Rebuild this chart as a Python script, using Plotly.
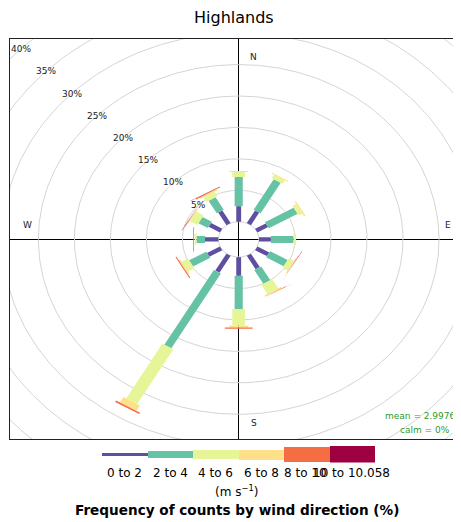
import numpy as np
import plotly.graph_objects as go

# ---------------- data ----------------
directions = [0, 30, 60, 90, 120, 150, 180, 210, 240, 270, 300, 330]
bin_labels = ["0 to 2", "2 to 4", "4 to 6", "6 to 8", "8 to 10", "10 to 10.058"]
bin_colors = ["#5E4FA2", "#66C2A5", "#E6F598", "#FEE08B", "#F46D43", "#9E0142"]
# frequency (%) of each speed bin for each direction (N, 30, 60 ... 330)
f_0_2   = [2.45, 2.30, 1.70, 1.65, 1.90, 2.46, 2.97, 3.10, 2.07, 1.86, 1.80, 2.30]
f_2_4   = [4.68, 5.60, 4.61, 3.15, 2.81, 2.54, 5.29, 13.76, 2.74, 1.18, 1.51, 2.29]
f_4_6   = [0.77, 0.65, 0.59, 0.35, 0.79, 1.66, 2.63, 10.04, 1.01, 0.26, 1.18, 0.85]
f_6_8   = [0.15, 0.15, 0.20, 0.07, 0.15, 0.24, 0.31, 1.00, 0.23, 0.08, 0.13, 0.21]
f_8_10  = [0.00, 0.08, 0.08, 0.00, 0.07, 0.10, 0.19, 0.25, 0.15, 0.11, 0.10, 0.15]
f_10_up = [0.00, 0.04, 0.04, 0.00, 0.04, 0.04, 0.00, 0.05, 0.04, 0.00, 0.04, 0.04]
series = [f_0_2, f_2_4, f_4_6, f_6_8, f_8_10, f_10_up]
ring_pcts = [5, 10, 15, 20, 25, 30, 35, 40]
compass = ["N", "E", "S", "W"]
mean_ws = "2.9976"
calm_pct = "0%"
key_heights = [3.7, 6.3, 9.7, 10.0, 14.3, 16.3]
title = "Highlands"

# ---------------- geometry ----------------
# page is 461x522; the browser body has an 8px margin, so the figure is 453x514
PAGE_H = 522
FW, FH = 453, 514
totals = np.sum(np.array(series), axis=0)
max_freq = float(totals.max())
off = 0.1 * max_freq
angle = 30
bw = np.linspace(0.002 ** 0.25, 0.016 ** 0.25, len(series)) ** 4 * max_freq * angle / 5

def px2fx(px):  # page px -> paper fraction (plot area = page x 10..461)
    return (px - 10) / 451

def py2fy(py):  # page px -> paper fraction
    return (PAGE_H - py) / FH

KEY_X0, KEY_X1 = 101.7, 375.0
seg_px = (KEY_X1 - KEY_X0) / len(bin_labels)

def kx(px):  # page px -> key axis units
    return (px - KEY_X0) / seg_px - 0.5

fig = go.Figure()

# grid rings (0% .. 40%)
th = np.linspace(0, 2 * np.pi, 361)
rx, ry = [], []
for p in [0] + ring_pcts:
    r = p + off
    rx += list(r * np.sin(th)) + [None]
    ry += list(r * np.cos(th)) + [None]
fig.add_trace(go.Scatter(x=rx, y=ry, mode="lines", line=dict(color="#D4D4D4", width=1),
                         hoverinfo="skip", showlegend=False))

# paddles
cum = np.zeros(len(directions))
for j, vals in enumerate(series):
    xs, ys = [], []
    w = bw[j]
    for i, wd in enumerate(directions):
        t = np.radians(wd)
        l1 = cum[i] + off
        l2 = cum[i] + vals[i] + off
        if vals[i] <= 0:
            continue
        x1 = l1 * np.sin(t) - w * np.cos(t); y1 = l1 * np.cos(t) + w * np.sin(t)
        x2 = l1 * np.sin(t) + w * np.cos(t); y2 = l1 * np.cos(t) - w * np.sin(t)
        x3 = l2 * np.sin(t) - w * np.cos(t); y3 = l2 * np.cos(t) + w * np.sin(t)
        x4 = l2 * np.sin(t) + w * np.cos(t); y4 = l2 * np.cos(t) - w * np.sin(t)
        xs += [x1, x2, x4, x3, x1, None]
        ys += [y1, y2, y4, y3, y1, None]
    cum = cum + np.array(vals)
    fig.add_trace(go.Scatter(x=xs, y=ys, mode="lines", fill="toself", fillcolor=bin_colors[j],
                             line=dict(width=0, color=bin_colors[j]), hoverinfo="skip",
                             showlegend=False))

# key (legend) bars on a second set of axes
fig.add_trace(go.Bar(x=list(range(len(bin_labels))), y=key_heights,
                     base=[-h / 2 for h in key_heights], width=1,
                     marker=dict(color=bin_colors, line=dict(width=0)),
                     xaxis="x2", yaxis="y2", hoverinfo="skip", showlegend=False))

R = max_freq + off
fig.update_layout(
    width=FW, height=FH,
    margin=dict(l=2, r=0, t=0, b=0),
    paper_bgcolor="white", plot_bgcolor="white",
    font=dict(family="DejaVu Sans", color="black"),
    xaxis=dict(domain=[0, 1], range=[-1.0239 * R, 0.9953 * R], showgrid=False,
               showticklabels=False, ticks="", zeroline=True, zerolinecolor="black",
               zerolinewidth=1.4, showline=True, mirror=True, linecolor="#222222", linewidth=1),
    yaxis=dict(domain=[py2fy(439), py2fy(39.3)], range=[-1.0235 * R, 1.0264 * R],
               showgrid=False, showticklabels=False, ticks="", zeroline=True,
               zerolinecolor="black", zerolinewidth=1.4, showline=True, mirror=False,
               linecolor="#222222", linewidth=1),
    xaxis2=dict(domain=[px2fx(KEY_X0), px2fx(KEY_X1)], range=[-0.5, len(bin_labels) - 0.5],
                visible=False, anchor="y2"),
    yaxis2=dict(domain=[py2fy(462.5), py2fy(445.5)], range=[-8.5, 8.5],
                visible=False, anchor="x2"),
    bargap=0,
)

ann = []
# ring labels at 315 degrees
for p in ring_pcts:
    r = p + off
    a = np.radians(315)
    ann.append(dict(x=r * np.sin(a), y=r * np.cos(a), xref="x", yref="y", text=f"{p}%",
                    showarrow=False, font=dict(size=9, color="#222222")))
# compass labels
cpos = {"N": (2.1, 29.1), "E": (29.1, 2.27), "S": (2.1, -29.2), "W": (-29.3, 2.27)}
for c in compass:
    ann.append(dict(x=cpos[c][0], y=cpos[c][1], xref="x", yref="y", text=c,
                    showarrow=False, font=dict(size=9, color="#222222")))
# key labels (the last two overlap on the shared "10", as in the reference)
for i, lab in enumerate(bin_labels):
    if i == len(bin_labels) - 2:
        xa, xv = "right", kx(327.5)
    elif i == len(bin_labels) - 1:
        xa, xv = "left", kx(312.2)
    else:
        xa, xv = "center", i
    ann.append(dict(x=xv, y=py2fy(472.5), xref="x2", yref="paper", text=lab,
                    xanchor=xa, yanchor="middle", borderpad=0,
                    showarrow=False, font=dict(size=12, color="black")))
ann.append(dict(x=px2fx(236), y=py2fy(490.5), xref="paper", yref="paper",
                xanchor="center", yanchor="middle",
                text="(m s<sup>−1</sup>)", showarrow=False, font=dict(size=12)))
ann.append(dict(x=px2fx(237.5), y=py2fy(509.5), xref="paper", yref="paper",
                xanchor="center", yanchor="middle",
                text="<b>Frequency of counts by wind direction (%)</b>", showarrow=False,
                font=dict(size=13.6)))
ann.append(dict(x=px2fx(234), y=py2fy(17.5), xref="paper", yref="paper", text=title,
                xanchor="center", yanchor="middle",
                showarrow=False, font=dict(size=16)))
ann.append(dict(x=px2fx(456.5), y=py2fy(415.5), xref="paper", yref="paper",
                text=f"mean = {mean_ws}", xanchor="right", yanchor="middle", showarrow=False,
                borderpad=0, font=dict(size=9, color="#2E9B2E")))
ann.append(dict(x=px2fx(451), y=py2fy(429.5), xref="paper", yref="paper",
                text=f"calm = {calm_pct}", xanchor="right", yanchor="middle", showarrow=False,
                borderpad=0, font=dict(size=9, color="#2E9B2E")))
fig.update_layout(annotations=ann)

fig.write_html("out.html")
